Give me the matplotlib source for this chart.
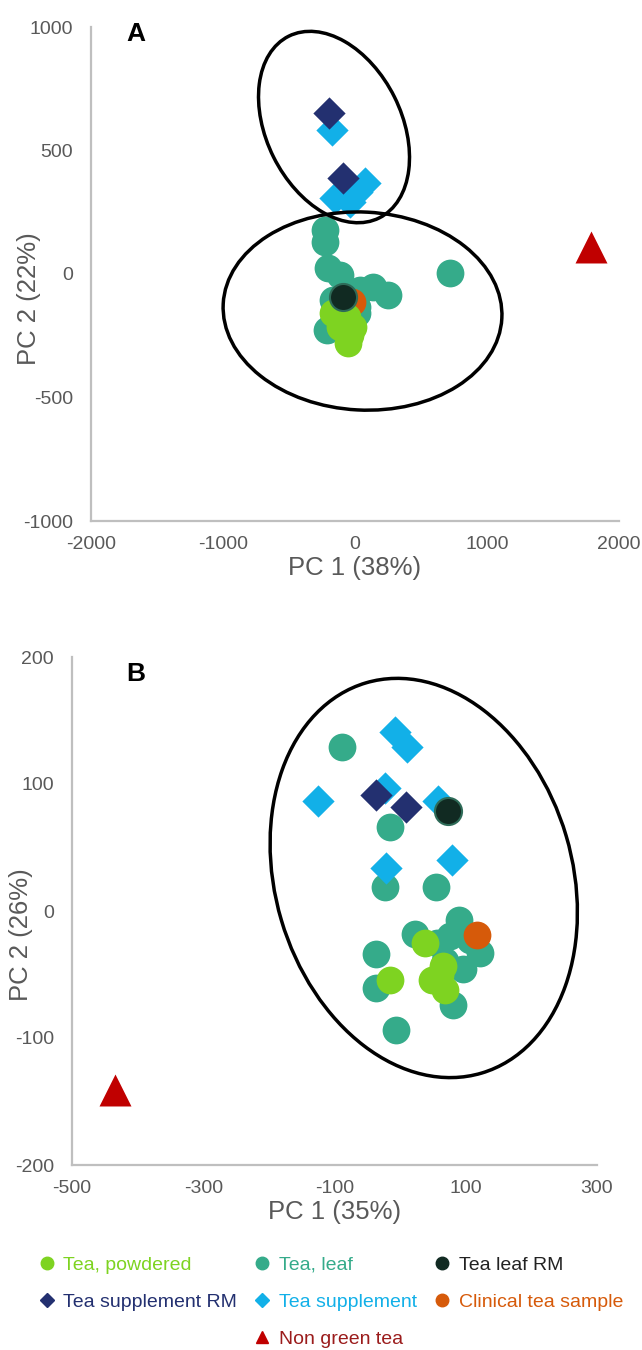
#PCA score plots, panels A and B

#imports
import matplotlib.pyplot as plt
from matplotlib.lines import Line2D
from matplotlib.patches import Ellipse
from matplotlib.transforms import ScaledTranslation

plt.rcParams['font.family'] = ['Liberation Sans', 'DejaVu Sans']
plt.rcParams['axes.unicode_minus'] = False

#data, panel A
powdered_a_x = [-164, -63, -13, -51, -114, -38]
powdered_a_y = [-159, -173, -213, -281, -213, -247]
leaf_a_x = [-227, -227, -202, -114, 139, 252, 720, -164, -177, 13, 13, -215, 38]
leaf_a_y = [178, 131, 23, -4, -51, -85, 3, -105, -206, -159, -132, -227, -65]
leaf_rm_a_x = [-89]
leaf_rm_a_y = [-92]
clinical_a_x = [-25]
clinical_a_y = [-112]
supp_rm_a_x = [-195, -89]
supp_rm_a_y = [653, 387]
supp_a_x = [-177, -152, -38, 76, 13]
supp_a_y = [583, 306, 293, 368, 333]
non_green_a_x = [1786]
non_green_a_y = [110]

#data, panel B
powdered_b_x = [38, -15, 66, 48, 68, 61]
powdered_b_y = [-25, -54, -43, -54, -62, -50]
leaf_b_x = [-89, -15, -23, 55, -37, -37, -6, 80, 23, 89, 76, 122, 96, 56, 106, 68]
leaf_b_y = [129, 66, 19, 19, -34, -61, -94, -74, -18, -7, -20, -33, -46, -25, -23, -39]
leaf_rm_b_x = [73]
leaf_rm_b_y = [79]
clinical_b_x = [117]
clinical_b_y = [-19]
supp_rm_b_x = [-37, 9]
supp_rm_b_y = [91, 82]
supp_b_x = [-125, -8, 10, -23, 58, 79, -21]
supp_b_y = [87, 141, 129, 97, 87, 40, 34]
non_green_b_x = [-435]
non_green_b_y = [-141]

labels = ['Tea, powdered', 'Tea, leaf', 'Tea leaf RM', 'Tea supplement RM',
          'Tea supplement', 'Clinical tea sample', 'Non green tea']
colors = ['#7ED321', '#35AB8A', '#112A22', '#233070', '#12B0E8', '#D65A0A', '#C00000']
text_colors = ['#7ED321', '#35AB8A', '#222222', '#233070', '#12B0E8', '#D65A0A', '#9B1C1C']

grey = '#595959'

fig = plt.figure(figsize=(6.42, 13.5), dpi=100)
ax_a = fig.add_axes([91/642, 829/1350, 528/642, 494/1350])
ax_b = fig.add_axes([72/642, 185/1350, 525/642, 508/1350])


def draw_panel(ax, pw, lf, lrm, cl, srm, sp, ng):
    ax.scatter(*lf, s=400, color=colors[1], zorder=2, linewidths=0)
    ax.scatter(*cl, s=400, color=colors[5], zorder=3, linewidths=0)
    ax.scatter(*pw, s=400, color=colors[0], zorder=4, linewidths=0)
    ax.scatter(*sp, s=270, marker='D', color=colors[4], zorder=5, linewidths=0)
    ax.scatter(*srm, s=270, marker='D', color=colors[3], zorder=6, linewidths=0)
    ax.scatter(*lrm, s=380, color=colors[2], edgecolor='#2E6B58', linewidths=1.5, zorder=7)
    ax.scatter(*ng, s=530, marker='^', color=colors[6], zorder=7, linewidths=0)
    for side in ['top', 'right']:
        ax.spines[side].set_visible(False)
    for side in ['left', 'bottom']:
        ax.spines[side].set_color('#BFBFBF')
        ax.spines[side].set_linewidth(1.6)
    ax.tick_params(length=0, labelsize=14, labelcolor=grey)
    ax.tick_params(axis='x', pad=11)
    ax.tick_params(axis='y', pad=13)


def add_ellipse(ax, cx, cy, w, h, angle):
    # size in inches, centre in data units
    tr = fig.dpi_scale_trans + ScaledTranslation(cx, cy, ax.transData)
    ax.add_patch(Ellipse((0, 0), w, h, angle=angle, fill=False, edgecolor='black',
                         linewidth=2.5, transform=tr, clip_on=False, zorder=8))


#panel A
draw_panel(ax_a, (powdered_a_x, powdered_a_y), (leaf_a_x, leaf_a_y),
           (leaf_rm_a_x, leaf_rm_a_y), (clinical_a_x, clinical_a_y),
           (supp_rm_a_x, supp_rm_a_y), (supp_a_x, supp_a_y),
           (non_green_a_x, non_green_a_y))
ax_a.set_xlim(-2000, 2000)
ax_a.set_ylim(-1000, 1000)
ax_a.set_xticks([-2000, -1000, 0, 1000, 2000])
ax_a.set_yticks([-1000, -500, 0, 500, 1000])
ax_a.set_xlabel('PC 1 (38%)', fontsize=18.5, color=grey, labelpad=2)
ax_a.set_ylabel('PC 2 (22%)', fontsize=18.5, color=grey)
ax_a.yaxis.set_label_coords(-0.095, 0.451)
ax_a.text(0.085, 0.985, 'A', transform=ax_a.transAxes, fontsize=19, fontweight='bold',
          ha='center', va='center')
add_ellipse(ax_a, -159, 595, 1.35, 2.03, 26.5)
add_ellipse(ax_a, 57, -150, 2.79, 1.98, -3)

#panel B
draw_panel(ax_b, (powdered_b_x, powdered_b_y), (leaf_b_x, leaf_b_y),
           (leaf_rm_b_x, leaf_rm_b_y), (clinical_b_x, clinical_b_y),
           (supp_rm_b_x, supp_rm_b_y), (supp_b_x, supp_b_y),
           (non_green_b_x, non_green_b_y))
ax_b.set_xlim(-500, 300)
ax_b.set_ylim(-200, 200)
ax_b.set_xticks([-500, -300, -100, 100, 300])
ax_b.set_yticks([-200, -100, 0, 100, 200])
ax_b.set_xlabel('PC 1 (35%)', fontsize=18.5, color=grey, labelpad=2)
ax_b.set_ylabel('PC 2 (26%)', fontsize=18.5, color=grey)
ax_b.yaxis.set_label_coords(-0.074, 0.453)
ax_b.text(0.122, 0.966, 'B', transform=ax_b.transAxes, fontsize=19, fontweight='bold',
          ha='center', va='center')
add_ellipse(ax_b, 36, 26, 2.97, 4.07, 16.5)

#legend
markers = ['o', 'o', 'o', 'D', 'D', 'o', '^']
handles = [Line2D([], [], marker=m, linestyle='', color=c, markersize=9 if m != 'D' else 7.5)
           for m, c in zip(markers, colors)]
blank = Line2D([], [], linestyle='', marker='')
# column order: powdered, supp RM, blank | leaf, supplement, non green | leaf RM, clinical
order = [0, 3, None, 1, 4, 6, 2, 5]
leg_handles = [handles[i] if i is not None else blank for i in order]
leg_labels = [labels[i] if i is not None else '' for i in order]
leg_colors = [text_colors[i] if i is not None else 'white' for i in order]
leg = fig.legend(leg_handles, leg_labels, ncol=3, loc='upper left',
                 bbox_to_anchor=(39/642, 1 - 1256/1350), frameon=False, fontsize=14,
                 handlelength=0.8, handletextpad=0.45, columnspacing=0.9,
                 labelspacing=1.0, borderaxespad=0, borderpad=0)
for t, c in zip(leg.get_texts(), leg_colors):
    t.set_color(c)

plt.savefig('out.png', dpi=100)
plt.close()
